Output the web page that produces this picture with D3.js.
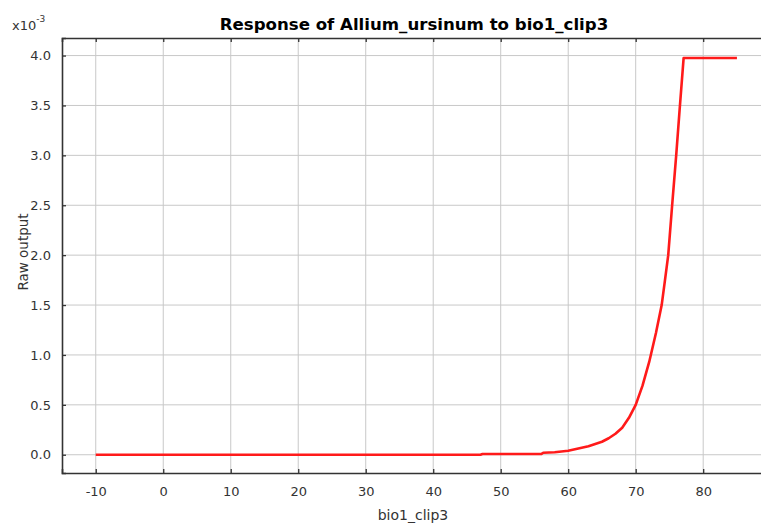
<!DOCTYPE html>
<html lang="en">
<head>
<meta charset="UTF-8">
<title>Response of Allium_ursinum to bio1_clip3</title>
<script src="https://d3js.org/d3.v7.min.js"></script>
<style>
  body { margin: 0; background: #fff; }
  svg text { font-family: 'DejaVu Sans', sans-serif; fill: #333; }
</style>
</head>
<body>
<div id="chart"></div>
<script>

// response curve, x = bio1_clip3, y = raw output (x10^-3)
var bio1 = [-10, 47, 47.3, 56, 56.3, 58, 60, 61, 62, 63, 64, 65, 66, 67, 68, 69, 70, 71, 72, 73, 73.85, 74.3, 74.82, 75.4, 76.0, 76.5, 77.1, 85];
var rawOutput = [0, 0, 0.007, 0.007, 0.02, 0.025, 0.04, 0.055, 0.07, 0.085, 0.107, 0.13, 0.165, 0.21, 0.27, 0.37, 0.50, 0.69, 0.93, 1.22, 1.5, 1.73, 2.0, 2.5, 3.0, 3.45, 3.975, 3.975];

var xTicks = [-10, 0, 10, 20, 30, 40, 50, 60, 70, 80];
var yTicks = [0, 0.5, 1.0, 1.5, 2.0, 2.5, 3.0, 3.5, 4.0];

var width = 761, height = 527;
var plotLeft = 62, plotRight = 769, plotTop = 38, plotBottom = 473;

var svg = d3.select("#chart")
.append("svg")
.attr("width", width)
.attr("height", height);

var x_scale = d3.scaleLinear()
.domain([-15, 89.75])
.range([plotLeft, plotRight]);

var y_scale = d3.scaleLinear()
.domain([-0.183, 4.176])
.range([plotBottom, plotTop]);

// grid
svg.append("g")
.selectAll("line")
.data(xTicks)
.enter()
.append("line")
.attr("x1", function (d) { return x_scale(d); })
.attr("x2", function (d) { return x_scale(d); })
.attr("y1", plotTop)
.attr("y2", plotBottom)
.style("stroke", "#c8c8c8")
.style("stroke-width", 1);

svg.append("g")
.selectAll("line")
.data(yTicks)
.enter()
.append("line")
.attr("x1", plotLeft)
.attr("x2", plotRight)
.attr("y1", function (d) { return y_scale(d); })
.attr("y2", function (d) { return y_scale(d); })
.style("stroke", "#c8c8c8")
.style("stroke-width", 1);

// axes, ticks point inwards
var x_axis = d3.axisBottom(x_scale)
.tickValues(xTicks)
.tickSize(-4)
.tickPadding(14)
.tickFormat(function (d) { return String(d); });

var gx = svg.append("g")
.attr("transform", `translate(0, ${plotBottom})`)
.call(x_axis);

var top_axis = d3.axisTop(x_scale)
.tickValues(xTicks)
.tickSize(-4)
.tickFormat("");

var gt = svg.append("g")
.attr("transform", `translate(0, ${plotTop})`)
.call(top_axis);

var y_axis = d3.axisLeft(y_scale)
.tickValues(yTicks)
.tickSize(-4)
.tickPadding(11)
.tickFormat(d3.format(".1f"));

var gy = svg.append("g")
.attr("transform", `translate(${plotLeft}, 0)`)
.call(y_axis);

[gx, gt, gy].forEach(function (g) {
  g.select(".domain").style("stroke", "#333").style("stroke-width", 1.6);
  g.selectAll(".tick line").style("stroke", "#333").style("stroke-width", 1.3);
  g.selectAll(".tick text")
  .style("font-family", "'DejaVu Sans', sans-serif")
  .style("font-size", "13px")
  .style("fill", "#333");
});

// curve
var line = d3.line()
.x(function (d, i) { return x_scale(bio1[i]); })
.y(function (d) { return y_scale(d); });

svg.append("path")
.datum(rawOutput)
.attr("d", line)
.style("fill", "none")
.style("stroke", "#ff1a1a")
.style("stroke-width", 2.6)
.style("stroke-linejoin", "round");

// labels
svg.append("text")
.attr("x", 414)
.attr("y", 30)
.attr("text-anchor", "middle")
.style("font-size", "16.6px")
.style("font-weight", "bold")
.style("fill", "#000")
.text("Response of Allium_ursinum to bio1_clip3");

svg.append("text")
.attr("x", 413)
.attr("y", 520)
.attr("text-anchor", "middle")
.style("font-size", "14px")
.text("bio1_clip3");

svg.append("text")
.attr("transform", "translate(28, 252) rotate(-90)")
.attr("text-anchor", "middle")
.style("font-size", "13.5px")
.text("Raw output");

var mult = svg.append("text")
.attr("x", 12)
.attr("y", 30)
.style("font-size", "13px");
mult.append("tspan").text("x10");
mult.append("tspan")
.attr("dy", -8)
.style("font-size", "9px")
.text("-3");

</script>
</body>
</html>
